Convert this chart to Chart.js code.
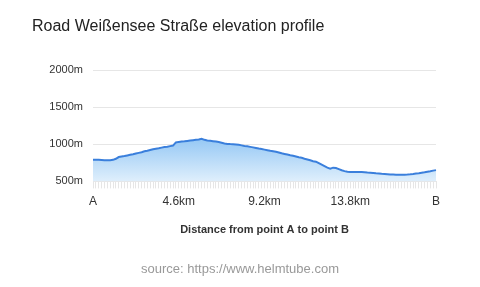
<!DOCTYPE html>
<html>
<head>
<meta charset="utf-8">
<script src="https://cdn.jsdelivr.net/npm/chart.js@4.4.1/dist/chart.umd.min.js"></script>
<style>
  body { margin: 0; background: #fff; font-family: "Liberation Sans", Arial, sans-serif; }
  #wrap { position: relative; width: 480px; height: 287px; overflow: hidden; }
  #title { position: absolute; left: 32px; top: 17px; font-size: 16px; color: #222; white-space: nowrap; }
  #source { position: absolute; left: 0; width: 480px; top: 261px; text-align: center; font-size: 13px; color: #999; }
  #chart { position: absolute; left: 0; top: 0; }
</style>
</head>
<body>
<div id="wrap">
  <canvas id="chart" width="480" height="287"></canvas>
  <div id="title">Road Weißensee Straße elevation profile</div>
  <div id="source">source: https://www.helmtube.com</div>
</div>
<script>
// elevation (m), 121 samples from A to B (~18.4 km)
var elevations = [
  792, 790, 790, 788, 786, 785, 785, 790, 805, 828,
  835, 842, 850, 858, 866, 875, 884, 893, 905, 912,
  922, 932, 940, 947, 955, 962, 968, 975, 982, 1025,
  1032, 1036, 1040, 1045, 1050, 1055, 1060, 1065, 1075, 1060,
  1052, 1048, 1042, 1036, 1030, 1020, 1010, 1005, 1002, 1000,
  998, 992, 985, 978, 972, 965, 958, 950, 942, 935,
  928, 920, 912, 905, 898, 890, 878, 870, 862, 852,
  845, 836, 826, 818, 805, 796, 785, 772, 765, 745,
  725, 705, 685, 672, 685, 680, 665, 650, 638, 630,
  626, 625, 626, 626, 625, 624, 620, 617, 614, 610,
  607, 603, 600, 597, 594, 592, 590, 590, 590, 591,
  593, 596, 600, 605, 610, 616, 622, 630, 637, 645,
  652
];

// tick labels shown on the x axis, by sample index
var tickIndex = [0, 30, 60, 90, 120];
var tickText = ["A", "4.6km", "9.2km", "13.8km", "B"];

var yTicks = [500, 1000, 1500, 2000];

var labels = elevations.map(function (v, i) {
    var k = tickIndex.indexOf(i);
    return k >= 0 ? tickText[k] : "";
});

function fillGradient(context) {
    var chart = context.chart;
    var area = chart.chartArea;
    if (!area) return "rgba(120,180,240,0.5)";
    var g = chart.ctx.createLinearGradient(0, area.top, 0, area.bottom);
    g.addColorStop(0, "#3f94ea");
    g.addColorStop(0.6, "#92c6f4");
    g.addColorStop(1, "#dfeffc");
    return g;
}

var ctx = document.getElementById("chart").getContext("2d");
var chart = new Chart(ctx, {
    type: "line",
    data: {
        labels: labels,
        datasets: [{
            data: elevations,
            borderColor: "#3a7fdc",
            borderWidth: 2,
            pointRadius: 0,
            tension: 0,
            fill: "start",
            backgroundColor: fillGradient
        }]
    },
    options: {
        responsive: false,
        animation: false,
        layout: { padding: { top: 70, right: 44, bottom: 46, left: 0 } },
        plugins: {
            legend: { display: false },
            tooltip: { enabled: false }
        },
        scales: {
            x: {
                border: { display: false },
                grid: {
                    drawOnChartArea: false,
                    drawTicks: true,
                    tickLength: 7,
                    color: "#e6e6e6"
                },
                ticks: {
                    autoSkip: false,
                    maxRotation: 0,
                    padding: 6,
                    color: "#333",
                    font: { family: "Liberation Sans", size: 12 },
                    callback: function (val, i) { return labels[i]; }
                },
                title: {
                    display: true,
                    text: "Distance from point A to point B",
                    color: "#333",
                    font: { family: "Liberation Sans", size: 11, weight: "bold" },
                    padding: { top: 9, bottom: 4 }
                }
            },
            y: {
                min: 500,
                max: 2000,
                border: { display: false },
                afterFit: function (scale) { scale.width = 93; },
                afterBuildTicks: function (scale) {
                    scale.ticks = yTicks.map(function (v) { return { value: v }; });
                },
                grid: { drawTicks: false, color: "#e6e6e6" },
                ticks: {
                    padding: 10,
                    color: "#333",
                    font: { family: "Liberation Sans", size: 11 },
                    callback: function (v) { return v + "m"; }
                }
            }
        }
    }
});
</script>
</body>
</html>
